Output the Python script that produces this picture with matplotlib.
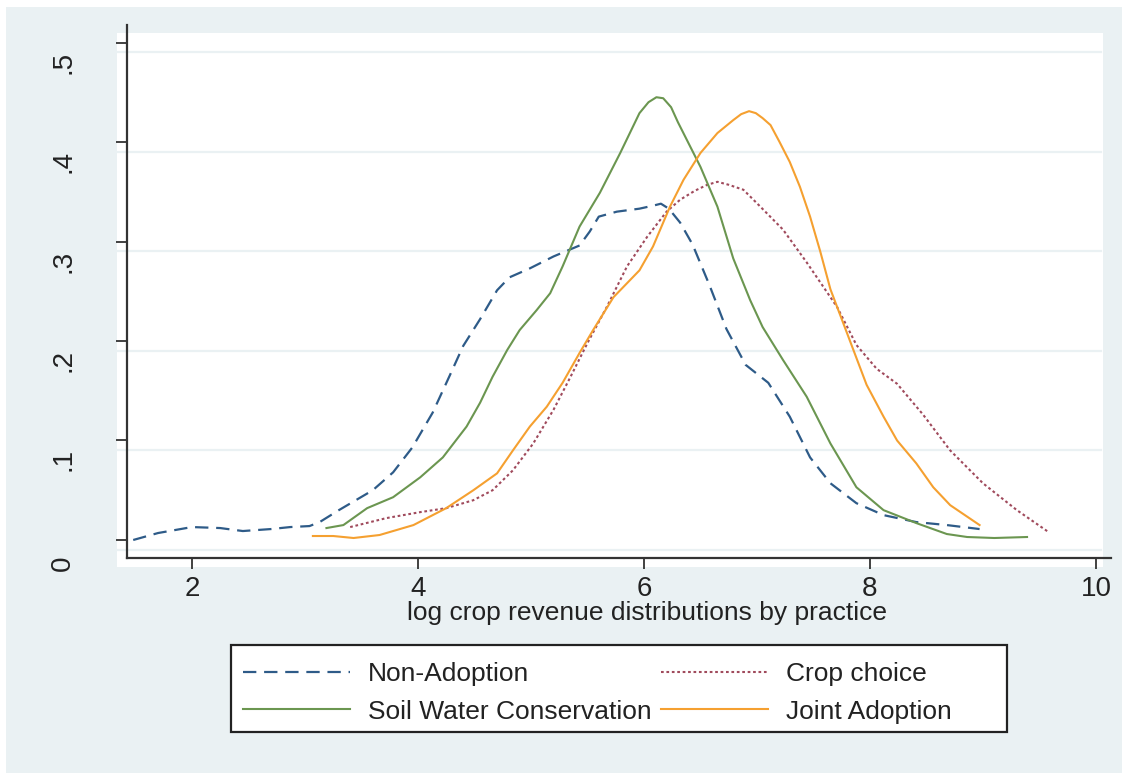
import matplotlib
matplotlib.use('Agg')
import matplotlib.pyplot as plt
import matplotlib.transforms as mtransforms
from matplotlib.patches import Rectangle

plt.rcParams['font.family'] = ['Liberation Sans', 'DejaVu Sans']

# kernel density curves
non_x = [1.48, 1.7, 2.0, 2.25, 2.45, 2.7, 2.87, 3.04, 3.13, 3.3, 3.42, 3.6, 3.78, 3.95, 4.13,
         4.28, 4.4, 4.55, 4.7, 4.81, 4.99, 5.2, 5.43, 5.52, 5.6, 5.76, 5.96, 6.08, 6.15, 6.22,
         6.32, 6.43, 6.58, 6.73, 6.9, 7.1, 7.29, 7.47, 7.65, 7.88, 8.12, 8.41, 8.68, 8.97]
non_y = [0.0, 0.007, 0.013, 0.012, 0.009, 0.011, 0.013, 0.014, 0.018, 0.03, 0.038, 0.05, 0.068,
         0.093, 0.128, 0.165, 0.195, 0.222, 0.251, 0.264, 0.273, 0.285, 0.296, 0.31, 0.325,
         0.330, 0.333, 0.336, 0.338, 0.333, 0.319, 0.297, 0.256, 0.212, 0.176, 0.158, 0.124,
         0.083, 0.057, 0.037, 0.025, 0.018, 0.015, 0.011]

swc_x = [3.19, 3.34, 3.55, 3.78, 4.02, 4.22, 4.43, 4.55, 4.66, 4.79, 4.9, 5.05, 5.17, 5.28,
         5.43, 5.61, 5.79, 5.96, 6.04, 6.11, 6.17, 6.24, 6.3, 6.38, 6.5, 6.65, 6.79, 6.94,
         7.05, 7.23, 7.44, 7.65, 7.88, 8.12, 8.41, 8.68, 8.86, 9.1, 9.39]
swc_y = [0.012, 0.015, 0.032, 0.043, 0.063, 0.083, 0.114, 0.138, 0.164, 0.191, 0.211, 0.231,
         0.248, 0.275, 0.315, 0.349, 0.389, 0.429, 0.44, 0.445, 0.444, 0.435, 0.42, 0.402,
         0.375, 0.335, 0.283, 0.241, 0.214, 0.181, 0.144, 0.097, 0.053, 0.03, 0.017, 0.006,
         0.003, 0.002, 0.003]

crop_x = [3.4, 3.72, 4.02, 4.25, 4.49, 4.66, 4.84, 5.02, 5.2, 5.35, 5.5, 5.67, 5.85, 6.03,
          6.2, 6.32, 6.45, 6.56, 6.65, 6.75, 6.88, 7.03, 7.23, 7.44, 7.71, 7.88, 8.06, 8.24,
          8.47, 8.71, 9.0, 9.3, 9.58]
crop_y = [0.013, 0.022, 0.028, 0.032, 0.04, 0.05, 0.07, 0.097, 0.131, 0.164, 0.198, 0.234,
          0.275, 0.305, 0.33, 0.342, 0.351, 0.357, 0.36, 0.357, 0.352, 0.335, 0.312, 0.279,
          0.234, 0.196, 0.172, 0.157, 0.126, 0.09, 0.057, 0.03, 0.008]

joint_x = [3.07, 3.25, 3.43, 3.66, 3.96, 4.25, 4.49, 4.7, 4.84, 4.99, 5.14, 5.28, 5.43, 5.55,
           5.73, 5.96, 6.08, 6.23, 6.35, 6.5, 6.65, 6.79, 6.86, 6.93, 6.99, 7.05, 7.12, 7.2,
           7.29, 7.38, 7.47, 7.56, 7.65, 7.82, 7.97, 8.12, 8.24, 8.41, 8.56, 8.71, 8.97]
joint_y = [0.004, 0.004, 0.002, 0.005, 0.015, 0.032, 0.05, 0.067, 0.09, 0.114, 0.134, 0.158,
           0.188, 0.211, 0.244, 0.271, 0.295, 0.335, 0.362, 0.389, 0.409, 0.422, 0.428, 0.431,
           0.429, 0.424, 0.417, 0.40, 0.38, 0.355, 0.325, 0.29, 0.252, 0.201, 0.156, 0.124,
           0.10, 0.077, 0.053, 0.035, 0.015]

x_ticks = [2, 4, 6, 8, 10]
y_ticks = [0, 0.1, 0.2, 0.3, 0.4, 0.5]
y_ticklabels = ['0', '.1', '.2', '.3', '.4', '.5']

W, H = 1122, 773
fig = plt.figure(figsize=(W / 100, H / 100), dpi=100)
fig.patch.set_facecolor('white')

# stata-like outer background and white plot region
fig.patches.append(Rectangle((6 / W, 0), 1, 1 - 7 / H, transform=fig.transFigure,
                             facecolor='#eaf1f3', edgecolor='none', zorder=0))
fig.patches.append(Rectangle((117 / W, 1 - 567 / H), (1103 - 117) / W, (567 - 33) / H,
                             transform=fig.transFigure, facecolor='white',
                             edgecolor='none', zorder=0.5))
# legend box (drawn separately: stata leaves extra room on the right)
fig.patches.append(Rectangle((231 / W, 1 - 732 / H), (1007 - 231) / W, (732 - 645) / H,
                             transform=fig.transFigure, facecolor='white',
                             edgecolor='#222222', lw=1.6, zorder=0.6))

ax = fig.add_axes([127 / W, 1 - 558 / H, (1111 - 127) / W, (558 - 25) / H])
ax.set_zorder(2)
ax.set_facecolor('none')
ax.set_xlim(1.425, 10.133)
ax.set_ylim(-0.0181, 0.5176)

# grid lines (sit a little under the ticks, as in the source)
for v in y_ticks:
    ax.plot([-0.01, 0.99], [v - 0.01, v - 0.01], transform=ax.get_yaxis_transform(),
            color='#eaf1f3', lw=1.6, zorder=1, clip_on=False)

ax.plot(non_x, non_y, color='#2e5b88', lw=1.6, linestyle=(0, (6, 3.5)), label='Non-Adoption', zorder=3)
ax.plot(crop_x, crop_y, color='#a04a5c', lw=1.5, linestyle=(0, (1.3, 1.3)), label='Crop choice', zorder=3)
ax.plot(swc_x, swc_y, color='#6b9650', lw=1.5, label='Soil Water Conservation', zorder=3)
ax.plot(joint_x, joint_y, color='#f5a030', lw=1.5, label='Joint Adoption', zorder=3)

for s in ['top', 'right']:
    ax.spines[s].set_visible(False)
for s in ['left', 'bottom']:
    ax.spines[s].set_linewidth(1.6)
    ax.spines[s].set_color('#333333')

ax.set_xticks(x_ticks)
ax.set_xticklabels([str(t) for t in x_ticks])
ax.set_yticks(y_ticks)
ax.set_yticklabels(y_ticklabels, rotation=90, va='bottom', ha='center')
ax.tick_params(axis='both', length=8, width=1.3, color='#333333', labelsize=20, labelcolor='#222222')
ax.tick_params(axis='x', pad=5)
ax.tick_params(axis='y', pad=38)

offset = mtransforms.ScaledTranslation(0, -31 / 100, fig.dpi_scale_trans)
for lab in ax.get_yticklabels():
    lab.set_transform(lab.get_transform() + offset)

fig.text(647 / W, 1 - 613 / H, 'log crop revenue distributions by practice',
         ha='center', va='center', fontsize=19, color='#222222')

handles, labels = ax.get_legend_handles_labels()
order = [0, 2, 1, 3]
leg = fig.legend([handles[i] for i in order], [labels[i] for i in order],
                 loc='upper left', bbox_to_anchor=(243 / W, 1 - 662 / H), ncol=2,
                 fontsize=19, frameon=False,
                 handlelength=4.05, handletextpad=0.68, columnspacing=0.38,
                 labelspacing=0.52, borderpad=0, borderaxespad=0)
leg.set_zorder(3)
for t in leg.get_texts():
    t.set_color('#222222')

fig.savefig('out.png', dpi=100)
